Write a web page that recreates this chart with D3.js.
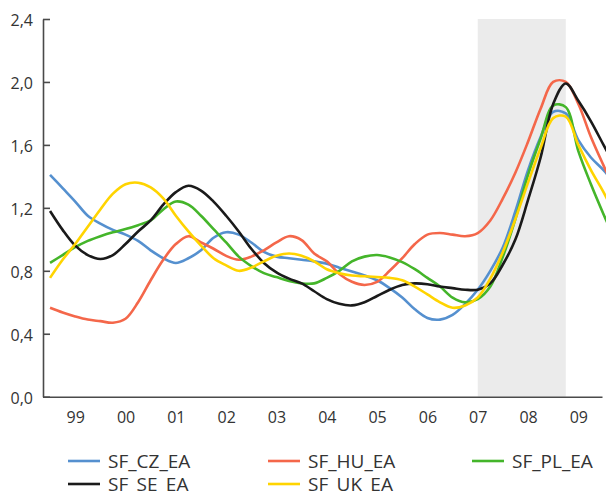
<!DOCTYPE html>
<html>
<head>
<meta charset="utf-8">
<script src="https://cdn.jsdelivr.net/npm/d3@7"></script>
<style>
  body { margin: 0; background: #fff; }
  text { font-family: "Open Sans", sans-serif; fill: #333; }
</style>
</head>
<body>
<div id="vis1"></div>
<script>
// quarterly observations, 1998Q3 .. 2009Q4
const quarters = d3.range(1998.5, 2009.76, 0.25);
const years = [1999, 2000, 2001, 2002, 2003, 2004, 2005, 2006, 2007, 2008, 2009];
const yTicks = [0, 0.4, 0.8, 1.2, 1.6, 2.0, 2.4];
const recession = [2007.0, 2008.75];

const seriesNames = ["SF_CZ_EA", "SF_HU_EA", "SF_PL_EA", "SF_SE_EA", "SF_UK_EA"];
const seriesColors = ["#5590cf", "#f4674a", "#44b52a", "#1a1a1a", "#ffd400"];

const cz = [1.41, 1.325, 1.24, 1.15, 1.10, 1.06, 1.03, 0.99, 0.93, 0.88, 0.85, 0.88,
  0.93, 1.01, 1.045, 1.03, 0.98, 0.92, 0.89, 0.88, 0.87, 0.86, 0.845, 0.82,
  0.795, 0.77, 0.74, 0.69, 0.63, 0.555, 0.50, 0.49, 0.52, 0.59, 0.68, 0.80,
  0.95, 1.18, 1.44, 1.65, 1.81, 1.80, 1.63, 1.52, 1.44, 1.34];
const hu = [0.565, 0.535, 0.51, 0.49, 0.48, 0.47, 0.495, 0.60, 0.74, 0.87, 0.97, 1.02,
  0.98, 0.94, 0.895, 0.87, 0.89, 0.93, 0.98, 1.02, 0.995, 0.91, 0.86, 0.78,
  0.73, 0.71, 0.73, 0.80, 0.88, 0.97, 1.03, 1.04, 1.03, 1.02, 1.04, 1.12,
  1.26, 1.425, 1.62, 1.83, 2.00, 2.00, 1.86, 1.65, 1.47, 1.30];
const pl = [0.85, 0.90, 0.95, 0.99, 1.02, 1.045, 1.065, 1.09, 1.12, 1.19, 1.24, 1.22,
  1.15, 1.065, 0.98, 0.89, 0.83, 0.785, 0.76, 0.735, 0.72, 0.72, 0.755, 0.80,
  0.86, 0.89, 0.90, 0.885, 0.855, 0.81, 0.755, 0.70, 0.63, 0.60, 0.62, 0.70,
  0.89, 1.13, 1.41, 1.64, 1.85, 1.84, 1.56, 1.35, 1.16, 0.98];
const se = [1.18, 1.06, 0.96, 0.90, 0.875, 0.90, 0.97, 1.05, 1.12, 1.22, 1.30, 1.34,
  1.31, 1.24, 1.15, 1.05, 0.94, 0.85, 0.79, 0.75, 0.72, 0.67, 0.62, 0.59,
  0.58, 0.60, 0.64, 0.68, 0.71, 0.72, 0.715, 0.70, 0.69, 0.68, 0.68, 0.72,
  0.84, 1.00, 1.25, 1.52, 1.86, 1.99, 1.88, 1.75, 1.60, 1.45];
const uk = [0.755, 0.87, 0.97, 1.08, 1.19, 1.29, 1.35, 1.36, 1.33, 1.26, 1.15, 1.05,
  0.96, 0.88, 0.835, 0.80, 0.82, 0.86, 0.895, 0.91, 0.895, 0.86, 0.81, 0.785,
  0.77, 0.765, 0.76, 0.755, 0.74, 0.70, 0.65, 0.60, 0.565, 0.58, 0.63, 0.75,
  0.92, 1.13, 1.36, 1.58, 1.77, 1.78, 1.60, 1.44, 1.30, 1.14];

const seriesValues = [cz, hu, pl, se, uk];

const W = 606, H = 491;

let svg1 = d3.select('#vis1')
  .append('svg')
  .attr('width', W)
  .attr('height', H)
  .attr('viewBox', [0, 0, W, H].join(' '));

let x = d3.scaleLinear()
  .domain([1998.36, 2009.47])
  .range([43, 602]);

let y = d3.scaleLinear()
  .domain([0, 2.4])
  .range([396.7, 19]);

// shaded period
svg1.append("rect")
  .attr("x", x(recession[0]))
  .attr("y", y(2.4))
  .attr("width", x(recession[1]) - x(recession[0]))
  .attr("height", y(0) - y(2.4))
  .attr("fill", "#ebebeb");

// lines
let line = d3.line()
  .x((d, i) => x(quarters[i]))
  .y(d => y(d))
  .curve(d3.curveCatmullRom.alpha(0.5));

svg1.append("g")
  .selectAll("path")
  .data(seriesValues)
  .join("path")
    .attr("fill", "none")
    .attr("stroke", (d, i) => seriesColors[i])
    .attr("stroke-width", 2.6)
    .attr("stroke-linejoin", "round")
    .attr("d", line);

// y axis, ticks pointing inward
let yAxis = svg1.append("g")
  .attr("transform", `translate(${x.range()[0]},0)`)
  .call(d3.axisLeft(y)
    .tickValues(yTicks)
    .tickSize(-7)
    .tickSizeOuter(0)
    .tickPadding(10)
    .tickFormat(d => d.toFixed(1).replace('.', ',')));

yAxis.selectAll("text")
  .attr("dy", "0.42em")
  .style("font-size", "16px");

// x axis, no ticks
let xAxis = svg1.append("g")
  .attr("transform", `translate(0,${y(0)})`)
  .call(d3.axisBottom(x)
    .tickValues(years)
    .tickSize(0)
    .tickPadding(15)
    .tickFormat(d => String(d).slice(2)));

xAxis.selectAll("text")
  .style("font-size", "16px");

svg1.selectAll(".domain, .tick line")
  .attr("stroke", "#4a4a4a")
  .attr("stroke-width", 1.6);

// legend, three per row
let legend = svg1.append("g")
  .selectAll("g")
  .data(seriesNames)
  .join("g")
    .attr("transform", (d, i) => `translate(${[68, 268, 472][i % 3]},${461 + Math.floor(i / 3) * 23})`);

legend.append("line")
  .attr("x1", 0)
  .attr("x2", 32)
  .attr("stroke", (d, i) => seriesColors[i])
  .attr("stroke-width", 2.6);

legend.append("text")
  .attr("x", 40)
  .attr("dy", "0.36em")
  .style("font-size", "19px")
  .text(d => d);
</script>
</body>
</html>
